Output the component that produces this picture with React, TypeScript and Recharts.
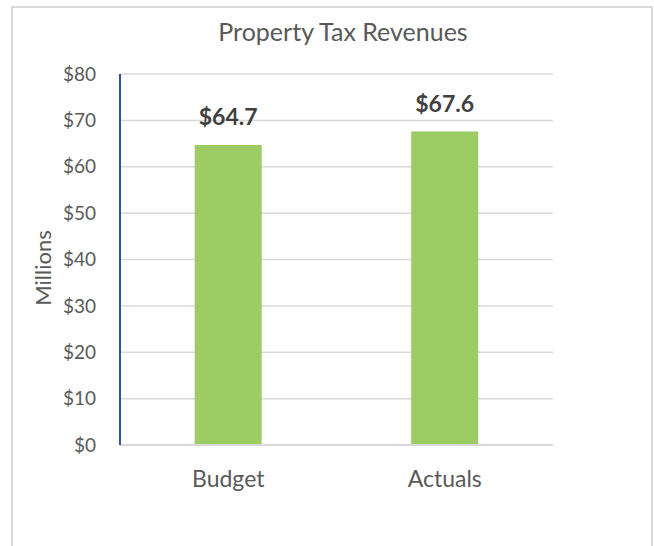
import React from "react"
import { BarChart, Bar, XAxis, YAxis, CartesianGrid, LabelList } from "recharts"

const categories = ["Budget", "Actuals"]
const revenues = [64.7, 67.6]
const yTicks = [0, 10, 20, 30, 40, 50, 60, 70, 80]

const data = categories.map((name, i) => ({ name, value: revenues[i] }))

const font = "Lato, 'Open Sans', sans-serif"

export default function App() {
  return (
    <div
      style={{
        position: "fixed",
        left: 0,
        top: 0,
        width: 654,
        height: 546,
        background: "#fff",
        fontFamily: font,
      }}
    >
      <div
        style={{
          position: "absolute",
          left: 11,
          top: 6,
          width: 638,
          height: 560,
          border: "2px solid #d9d9d9",
        }}
      />
      <div
        style={{
          position: "absolute",
          left: 0,
          width: 686,
          top: 16,
          textAlign: "center",
          fontSize: 25,
          color: "#595959",
        }}
      >
        Property Tax Revenues
      </div>
      <div style={{ position: "absolute", left: 0, top: 0 }}>
        <BarChart
          width={654}
          height={546}
          data={data}
          margin={{ top: 74, right: 101, bottom: 71, left: 60 }}
          barCategoryGap="34.5%"
        >
          <CartesianGrid vertical={false} stroke="#d9d9d9" strokeWidth={1.5} />
          <XAxis
            dataKey="name"
            height={30}
            axisLine={{ stroke: "#d9d9d9", strokeWidth: 2 }}
            tickLine={false}
            tick={{ fill: "#595959", fontSize: 23, fontFamily: font }}
            tickMargin={20}
          />
          <YAxis
            width={60}
            domain={[0, 80]}
            ticks={yTicks}
            interval={0}
            axisLine={{ stroke: "#2f5597", strokeWidth: 2 }}
            tickLine={false}
            tick={{ fill: "#595959", fontSize: 19, fontFamily: font }}
            tickMargin={18}
            tickFormatter={(v) => `$${v}`}
            label={{
              content: () => (
                <text
                  x={42}
                  y={268}
                  transform="rotate(-90 42 268)"
                  textAnchor="middle"
                  dominantBaseline="central"
                  fill="#595959"
                  fontSize={22}
                  fontFamily={font}
                >
                  Millions
                </text>
              ),
            }}
          />
          <Bar dataKey="value" fill="#9ccc63" isAnimationActive={false}>
            <LabelList
              dataKey="value"
              position="top"
              offset={20}
              formatter={(v: number) => `$${v.toFixed(1)}`}
              fill="#404040"
              fontSize={23}
              fontWeight="bold"
              fontFamily={font}
            />
          </Bar>
        </BarChart>
      </div>
    </div>
  )
}
